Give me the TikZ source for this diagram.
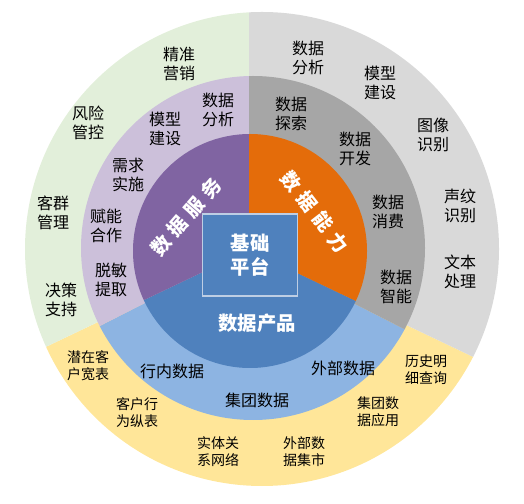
\documentclass[tikz,border=0pt]{standalone}
\usepackage{fontspec}
\setmainfont{Noto Sans CJK SC}
\newfontfamily\spacedfont[LetterSpace=32]{Noto Sans CJK SC}
\usepackage{tikz}
\usetikzlibrary{calc}
\usepackage{xcolor}
\definecolor{outgreen}{RGB}{226,239,218}
\definecolor{outgray}{RGB}{217,217,217}
\definecolor{outyellow}{RGB}{255,230,153}
\definecolor{midpurple}{RGB}{204,192,218}
\definecolor{midgray}{RGB}{166,166,166}
\definecolor{midblue}{RGB}{141,180,226}
\definecolor{svcpurple}{RGB}{128,100,162}
\definecolor{caporange}{RGB}{228,108,10}
\definecolor{prodblue}{RGB}{79,129,189}
\definecolor{baseedge}{RGB}{190,206,228}

\tikzset{
  item/.style={font=\fontsize{12}{14.5}\selectfont, align=center, inner sep=0pt},
  itemsm/.style={font=\fontsize{10.5}{12.8}\selectfont, align=center, inner sep=0pt},
  sector/.style={font=\fontsize{14.5}{17}\selectfont\bfseries, text=white, inner sep=0pt},
  sectorsp/.style={font=\spacedfont\fontsize{14.5}{17}\selectfont\bfseries, text=white, inner sep=0pt},
}

\begin{document}
\begin{tikzpicture}[x=0.75pt, y=0.75pt]
        \useasboundingbox (0,0) rectangle (524,503);
        \coordinate (hub) at (249,253);
        % Outer ring
        \begin{scope}
          \clip (262,254) circle (237);
          \fill[outyellow] (hub) -- ($(hub)+(205.5:400)$) -- ($(hub)+(270:400)$) -- ($(hub)+(334.5:400)$) -- cycle;
          \fill[outgreen] (hub) -- ($(hub)+(90:400)$) -- ($(hub)+(150:400)$) -- ($(hub)+(205.5:400)$) -- cycle;
          \fill[outgray] (hub) -- ($(hub)+(334.5:400)$) -- ($(hub)+(30:400)$) -- ($(hub)+(90:400)$) -- cycle;
        \end{scope}
        % Middle ring
        \begin{scope}
          \clip (253,255) circle (172);
          \fill[midblue] (hub) -- ($(hub)+(207:300)$) -- ($(hub)+(270:300)$) -- ($(hub)+(333:300)$) -- cycle;
          \fill[midpurple] (hub) -- ($(hub)+(90:300)$) -- ($(hub)+(150:300)$) -- ($(hub)+(207:300)$) -- cycle;
          \fill[midgray] (hub) -- ($(hub)+(333:300)$) -- ($(hub)+(30:300)$) -- ($(hub)+(90:300)$) -- cycle;
        \end{scope}
        % Inner ring
        \begin{scope}
          \clip (250,252) circle (117);
          \fill[prodblue] (hub) -- ($(hub)+(205.5:200)$) -- ($(hub)+(270:200)$) -- ($(hub)+(334.5:200)$) -- cycle;
          \fill[svcpurple] (hub) -- ($(hub)+(90:200)$) -- ($(hub)+(150:200)$) -- ($(hub)+(205.5:200)$) -- cycle;
          \fill[caporange] (hub) -- ($(hub)+(334.5:200)$) -- ($(hub)+(30:200)$) -- ($(hub)+(90:200)$) -- cycle;
        \end{scope}
        % Base platform
        \node[draw=baseedge, line width=0.8pt, fill=prodblue, minimum width=71pt,
              minimum height=61.5pt, sector, align=center, font=\fontsize{14.5}{17.5}\selectfont\bfseries]
          (base) at (250,248) {基础\\平台};
        % Inner sectors
        \node[sectorsp, rotate=49] (svc) at (186,286) {数据服务};
        \node[sectorsp, rotate=-52] (cap) at (315,291) {数据能力};
        \node[sector] (prod) at (257,180) {数据产品};
        % Middle ring: services
        \node[item] (svcana) at (218,393) {数据\\分析};
        \node[item] (svcmod) at (165,374) {模型\\建设};
        \node[item] (svcreq) at (128,328) {需求\\实施};
        \node[item] (svcco) at (106,277) {赋能\\合作};
        \node[item] (svcmask) at (111,223) {脱敏\\提取};
        % Middle ring: capabilities
        \node[item] (capexp) at (291,389) {数据\\探索};
        \node[item] (capdev) at (355,354) {数据\\开发};
        \node[item] (capuse) at (388,291) {数据\\消费};
        \node[item] (capai) at (396,216) {数据\\智能};
        % Middle ring: products
        \node[item] (prodin) at (172,132) {行内数据};
        \node[item] (prodgrp) at (257,103) {集团数据};
        \node[item] (prodout) at (343,135) {外部数据};
        % Outer ring: applications
        \node[item] (mktg) at (179,439) {精准\\营销};
        \node[item] (risk) at (88,380) {风险\\管控};
        \node[item] (cust) at (53,290) {客群\\管理};
        \node[item] (dec) at (61,203) {决策\\支持};
        % Outer ring: techniques
        \node[item] (ana) at (308,445) {数据\\分析};
        \node[item] (mod) at (380,420) {模型\\建设};
        \node[item] (img) at (433,368) {图像\\识别};
        \node[item] (voice) at (460,297) {声纹\\识别};
        \node[item] (text) at (460,231) {文本\\处理};
        % Outer ring: data marts
        \node[itemsm] (wide) at (88,137) {潜在客\\户宽表};
        \node[itemsm] (behav) at (137,90) {客户行\\为纵表};
        \node[itemsm] (net) at (218,51) {实体关\\系网络};
        \node[itemsm] (mart) at (304,51) {外部数\\据集市};
        \node[itemsm] (grpapp) at (378,91) {集团数\\据应用};
        \node[itemsm] (hist) at (426,133) {历史明\\细查询};
      \end{tikzpicture}
\end{document}
